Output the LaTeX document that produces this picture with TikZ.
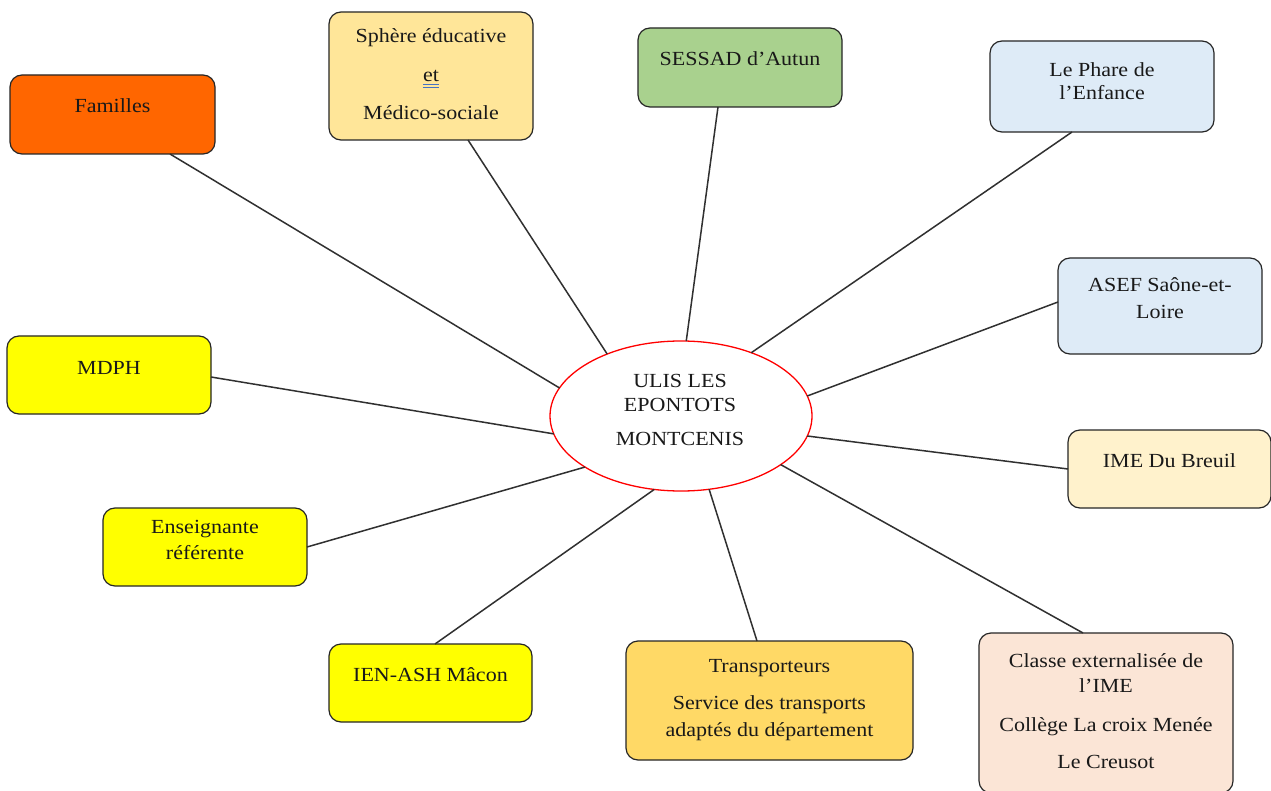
\documentclass[tikz,border=0pt]{standalone}
\usepackage{fontspec}
\setmainfont[FakeStretch=1.1]{Liberation Serif}
\definecolor{cfam}{HTML}{FF6600}
\definecolor{csph}{HTML}{FFE699}
\definecolor{cses}{HTML}{A9D18E}
\definecolor{cblue}{HTML}{DEEBF7}
\definecolor{cyel}{HTML}{FFFF00}
\definecolor{cime}{HTML}{FFF2CC}
\definecolor{ctra}{HTML}{FFD966}
\definecolor{ccla}{HTML}{FBE5D6}
\definecolor{cline}{HTML}{303030}
\definecolor{cmark}{HTML}{4472C4}
\tikzset{
  box/.style={draw=black!85, line width=1.2pt, rounded corners=12pt, inner sep=0pt, outer sep=0pt},
  txt/.style={anchor=base, inner sep=0pt, text=black!90, font=\fontsize{20}{24}\selectfont},
  link/.style={draw=cline, line width=1.5pt},
  hub/.style={ellipse, draw=red, line width=1.3pt, fill=white, minimum width=262pt, minimum height=150pt, inner sep=0pt, outer sep=0pt}
}
\usetikzlibrary{shapes.geometric}
\begin{document}
\begin{tikzpicture}[x=1pt,y=-1pt]
\useasboundingbox (0,0) rectangle (1271,791);
\fill[white] (0,0) rectangle (1271,791);
% boxes
\node[box, fill=cfam, minimum width=205pt, minimum height=79pt] (fam) at (112.5,114.5) {};
\node[box, fill=csph, minimum width=204pt, minimum height=128pt] (sph) at (431,76) {};
\node[box, fill=cses, minimum width=204pt, minimum height=79pt] (ses) at (740,67.5) {};
\node[box, fill=cblue, minimum width=224pt, minimum height=91pt] (pha) at (1102,86.5) {};
\node[box, fill=cblue, minimum width=204pt, minimum height=96pt] (ase) at (1160,306) {};
\node[box, fill=cyel, minimum width=204pt, minimum height=78pt] (mdp) at (109,375) {};
\node[box, fill=cime, minimum width=203pt, minimum height=78pt] (ime) at (1169.5,469) {};
\node[box, fill=cyel, minimum width=204pt, minimum height=78pt] (ens) at (205,547) {};
\node[box, fill=cyel, minimum width=203pt, minimum height=78pt] (ien) at (430.5,683) {};
\node[box, fill=ctra, minimum width=287pt, minimum height=119pt] (tra) at (769.5,700.5) {};
\node[box, fill=ccla, minimum width=254pt, minimum height=160pt] (cla) at (1106,713) {};
\node[hub] (ulis) at (681,416) {};
% connectors
\draw[link] (ulis.167) -- ([xshift=57.5pt]fam.south);
\draw[link] (ulis.140.4) -- ([xshift=37pt]sph.south);
\draw[link] (ulis.86.8) -- ([xshift=-22pt]ses.south);
\draw[link] (ulis.42) -- ([xshift=-30pt]pha.south);
\draw[link] (ulis.9.5) -- ([yshift=4pt]ase.west);
\draw[link] (ulis.188.8) -- ([yshift=-2pt]mdp.east);
\draw[link] (ulis.-9.6) -- (ime.west);
\draw[link] (ulis.208.6) -- (ens.east);
\draw[link] (ulis.250) -- ([xshift=4.5pt]ien.north);
\draw[link] (ulis.-69.6) -- ([xshift=-12.5pt]tra.north);
\draw[link] (ulis.-26.8) -- ([xshift=-23pt]cla.north);
% texts
\node[txt] (t1) at (112.5,113) {Familles};
\node[txt] (t2a) at (431,43) {Sphère éducative};
\node[txt] (t2b) at (431,82) {et};
\draw[cmark, line width=1pt] ([yshift=-3pt]t2b.base west) -- ([yshift=-3pt]t2b.base east);
\draw[cmark, line width=1pt] ([yshift=-6pt]t2b.base west) -- ([yshift=-6pt]t2b.base east);
\node[txt] (t2c) at (431,120) {Médico-sociale};
\node[txt] (t3) at (740,66) {SESSAD d’Autun};
\node[txt] (t4a) at (1102,77) {Le Phare de};
\node[txt] (t4b) at (1102,100) {l’Enfance};
\node[txt] (t5a) at (1160,292) {ASEF Saône-et-};
\node[txt] (t5b) at (1160,319) {Loire};
\node[txt] (t6) at (109,374) {MDPH};
\node[txt] (t7) at (1169.5,467) {IME Du Breuil};
\node[txt] (t8a) at (205,533) {Enseignante};
\node[txt] (t8b) at (205,559) {référente};
\node[txt] (t9) at (430.5,681) {IEN-ASH Mâcon};
\node[txt] (t10a) at (769.5,672) {Transporteurs};
\node[txt] (t10b) at (769.5,709) {Service des transports};
\node[txt] (t10c) at (769.5,736) {adaptés du département};
\node[txt] (t11a) at (1106,667) {Classe externalisée de};
\node[txt] (t11b) at (1106,692) {l’IME};
\node[txt] (t11c) at (1106,731) {Collège La croix Menée};
\node[txt] (t11d) at (1106,768) {Le Creusot};
\node[txt] (u1) at (680,387) {ULIS LES};
\node[txt] (u2) at (680,411) {EPONTOTS};
\node[txt] (u3) at (680,445) {MONTCENIS};
\end{tikzpicture}
\end{document}
